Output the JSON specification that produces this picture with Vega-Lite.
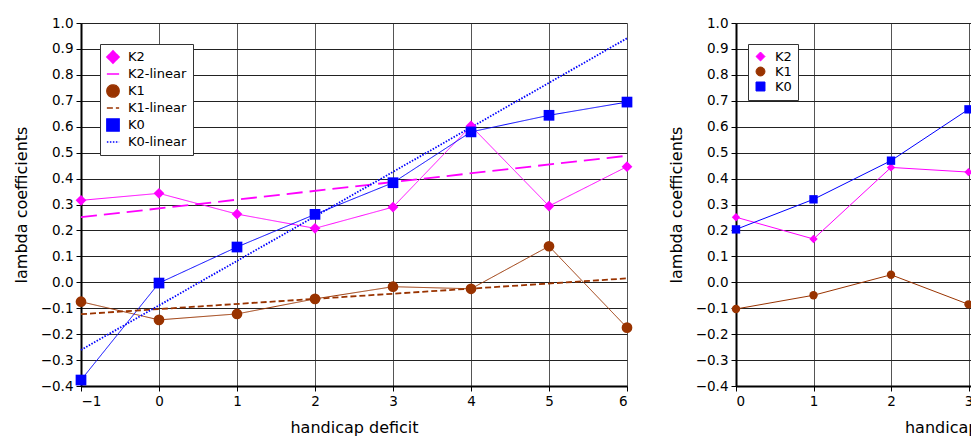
{
  "$schema": "https://vega.github.io/schema/vega-lite/v6.json",
  "autosize": {"type": "pad"},
  "padding": {"left": 13, "top": 16, "right": 0, "bottom": 0},
  "background": "white",
  "config": {
    "font": "DejaVu Sans",
    "view": {"stroke": null},
    "axis": {
      "labelFont": "DejaVu Sans", "titleFont": "DejaVu Sans",
      "labelFontSize": 13.5, "titleFontSize": 16, "titleFontWeight": "normal",
      "labelColor": "black", "titleColor": "black",
      "domainColor": "black", "domainWidth": 2,
      "tickColor": "black", "tickWidth": 1, "tickSize": 5,
      "labelPadding": 3, "gridWidth": 1, "gridOpacity": 1
    },
    "axisX": {"gridColor": "#555555", "titlePadding": 12},
    "axisY": {"gridColor": "#222222", "titlePadding": 11},
    "legend": {"labelFont": "DejaVu Sans", "labelFontSize": 13, "labelColor": "black", "direction": "vertical"}
  },
  "spacing": 35,
  "resolve": {"scale": {"color": "independent", "shape": "independent", "strokeDash": "independent"}, "legend": {"color": "independent", "shape": "independent", "strokeDash": "independent"}},
  "hconcat": [
    {
      "width": 546, "height": 363,
      "data": {"values": [
        {"x": -1, "y": 0.316, "series": "K2"}, {"x": 0, "y": 0.343, "series": "K2"}, {"x": 1, "y": 0.263, "series": "K2"}, {"x": 2, "y": 0.208, "series": "K2"},
        {"x": 3, "y": 0.290, "series": "K2"}, {"x": 4, "y": 0.603, "series": "K2"}, {"x": 5, "y": 0.294, "series": "K2"}, {"x": 6, "y": 0.446, "series": "K2"},
        {"x": -1, "y": 0.251, "series": "K2-linear"}, {"x": 6, "y": 0.488, "series": "K2-linear"},
        {"x": -1, "y": -0.075, "series": "K1"}, {"x": 0, "y": -0.145, "series": "K1"}, {"x": 1, "y": -0.122, "series": "K1"}, {"x": 2, "y": -0.064, "series": "K1"},
        {"x": 3, "y": -0.017, "series": "K1"}, {"x": 4, "y": -0.025, "series": "K1"}, {"x": 5, "y": 0.139, "series": "K1"}, {"x": 6, "y": -0.175, "series": "K1"},
        {"x": -1, "y": -0.123, "series": "K1-linear"}, {"x": 6, "y": 0.015, "series": "K1-linear"},
        {"x": -1, "y": -0.377, "series": "K0"}, {"x": 0, "y": -0.003, "series": "K0"}, {"x": 1, "y": 0.136, "series": "K0"}, {"x": 2, "y": 0.262, "series": "K0"},
        {"x": 3, "y": 0.384, "series": "K0"}, {"x": 4, "y": 0.580, "series": "K0"}, {"x": 5, "y": 0.644, "series": "K0"}, {"x": 6, "y": 0.695, "series": "K0"},
        {"x": -1, "y": -0.261, "series": "K0-linear"}, {"x": 6, "y": 0.941, "series": "K0-linear"}
      ]},
      "encoding": {
        "x": {"field": "x", "type": "quantitative", "scale": {"domain": [-1, 6], "nice": false, "zero": false},
              "axis": {"values": [-1, 0, 1, 2, 3, 4, 5, 6], "format": "d", "title": "handicap deficit", "grid": true}},
        "y": {"field": "y", "type": "quantitative", "scale": {"domain": [-0.4, 1.0], "nice": false, "zero": false},
              "axis": {"values": [-0.4, -0.3, -0.2, -0.1, 0, 0.1, 0.2, 0.3, 0.4, 0.5, 0.6, 0.7, 0.8, 0.9, 1.0], "format": ".1f", "title": "lambda coefficients", "grid": true}},
        "color": {"field": "series", "type": "nominal",
          "scale": {"domain": ["K2", "K2-linear", "K1", "K1-linear", "K0", "K0-linear"],
                    "range": ["#ff00ff", "#ff00ff", "#993300", "#993300", "#0000ff", "#0000ff"]},
          "legend": {
            "title": null, "orient": "none", "legendX": 19, "legendY": 21, "direction": "vertical",
            "padding": 6, "strokeColor": "#333333", "fillColor": "white", "cornerRadius": 0,
            "symbolSize": 150, "symbolStrokeWidth": 1.5, "labelOffset": 8, "rowPadding": 0
          }}
      },
      "layer": [
        {"transform": [{"filter": "indexof(datum.series,'linear') < 0"}],
         "mark": {"type": "line", "strokeWidth": 1},
         "encoding": {"strokeDash": {"field": "series", "type": "nominal",
            "scale": {"domain": ["K2", "K2-linear", "K1", "K1-linear", "K0", "K0-linear"],
                      "range": [[1, 0], [16, 7], [1, 0], [6, 3], [1, 0], [1.5, 1.5]]},
            "legend": {
            "title": null, "orient": "none", "legendX": 19, "legendY": 21, "direction": "vertical",
            "padding": 6, "strokeColor": "#333333", "fillColor": "white", "cornerRadius": 0,
            "symbolSize": 150, "symbolStrokeWidth": 1.5, "labelOffset": 8, "rowPadding": 0
          }}}},
        {"transform": [{"filter": "indexof(datum.series,'linear') > 0"}],
         "mark": {"type": "line", "strokeWidth": 1.8},
         "encoding": {"strokeDash": {"field": "series", "type": "nominal",
            "scale": {"domain": ["K2", "K2-linear", "K1", "K1-linear", "K0", "K0-linear"],
                      "range": [[1, 0], [16, 7], [1, 0], [6, 3], [1, 0], [1.5, 1.5]]},
            "legend": {
            "title": null, "orient": "none", "legendX": 19, "legendY": 21, "direction": "vertical",
            "padding": 6, "strokeColor": "#333333", "fillColor": "white", "cornerRadius": 0,
            "symbolSize": 150, "symbolStrokeWidth": 1.5, "labelOffset": 8, "rowPadding": 0
          }}}},
        {"transform": [{"filter": "indexof(datum.series,'linear') < 0"}],
         "mark": {"type": "point", "size": 115, "filled": true, "opacity": 1},
         "encoding": {"shape": {"field": "series", "type": "nominal",
            "scale": {"domain": ["K2", "K2-linear", "K1", "K1-linear", "K0", "K0-linear"],
                      "range": ["diamond", "stroke", "circle", "stroke", "square", "stroke"]},
            "legend": {
            "title": null, "orient": "none", "legendX": 19, "legendY": 21, "direction": "vertical",
            "padding": 6, "strokeColor": "#333333", "fillColor": "white", "cornerRadius": 0,
            "symbolSize": 150, "symbolStrokeWidth": 1.5, "labelOffset": 8, "rowPadding": 0
          }}}}
      ]
    },
    {
      "width": 465, "height": 363,
      "data": {"values": [
        {"x": 0, "y": 0.251, "series2": "K2"}, {"x": 1, "y": 0.167, "series2": "K2"}, {"x": 2, "y": 0.443, "series2": "K2"}, {"x": 3, "y": 0.425, "series2": "K2"},
        {"x": 0, "y": -0.103, "series2": "K1"}, {"x": 1, "y": -0.050, "series2": "K1"}, {"x": 2, "y": 0.029, "series2": "K1"}, {"x": 3, "y": -0.085, "series2": "K1"},
        {"x": 0, "y": 0.204, "series2": "K0"}, {"x": 1, "y": 0.320, "series2": "K0"}, {"x": 2, "y": 0.469, "series2": "K0"}, {"x": 3, "y": 0.667, "series2": "K0"}
      ]},
      "encoding": {
        "x": {"field": "x", "type": "quantitative", "scale": {"domain": [0, 6], "nice": false, "zero": false},
              "axis": {"values": [0, 1, 2, 3, 4, 5, 6], "format": "d", "title": "handicap deficit", "grid": true}},
        "y": {"field": "y", "type": "quantitative", "scale": {"domain": [-0.4, 1.0], "nice": false, "zero": false},
              "axis": {"values": [-0.4, -0.3, -0.2, -0.1, 0, 0.1, 0.2, 0.3, 0.4, 0.5, 0.6, 0.7, 0.8, 0.9, 1.0], "format": ".1f", "title": "lambda coefficients", "grid": true}},
        "color": {"field": "series2", "type": "nominal",
          "scale": {"domain": ["K2", "K1", "K0"], "range": ["#ff00ff", "#993300", "#0000ff"]},
          "legend": {
            "title": null, "orient": "none", "legendX": 12, "legendY": 21, "direction": "vertical",
            "padding": 6, "strokeColor": "#333333", "fillColor": "white", "cornerRadius": 0,
            "symbolSize": 80, "symbolStrokeWidth": 1, "labelOffset": 8, "rowPadding": 1
          }}
      },
      "layer": [
        {"mark": {"type": "line", "strokeWidth": 1}},
        {"mark": {"type": "point", "size": 70, "filled": true, "opacity": 1},
         "encoding": {"shape": {"field": "series2", "type": "nominal",
            "scale": {"domain": ["K2", "K1", "K0"], "range": ["diamond", "circle", "square"]},
            "legend": {
            "title": null, "orient": "none", "legendX": 12, "legendY": 21, "direction": "vertical",
            "padding": 6, "strokeColor": "#333333", "fillColor": "white", "cornerRadius": 0,
            "symbolSize": 80, "symbolStrokeWidth": 1, "labelOffset": 8, "rowPadding": 1
          }}}}
      ]
    }
  ]
}
